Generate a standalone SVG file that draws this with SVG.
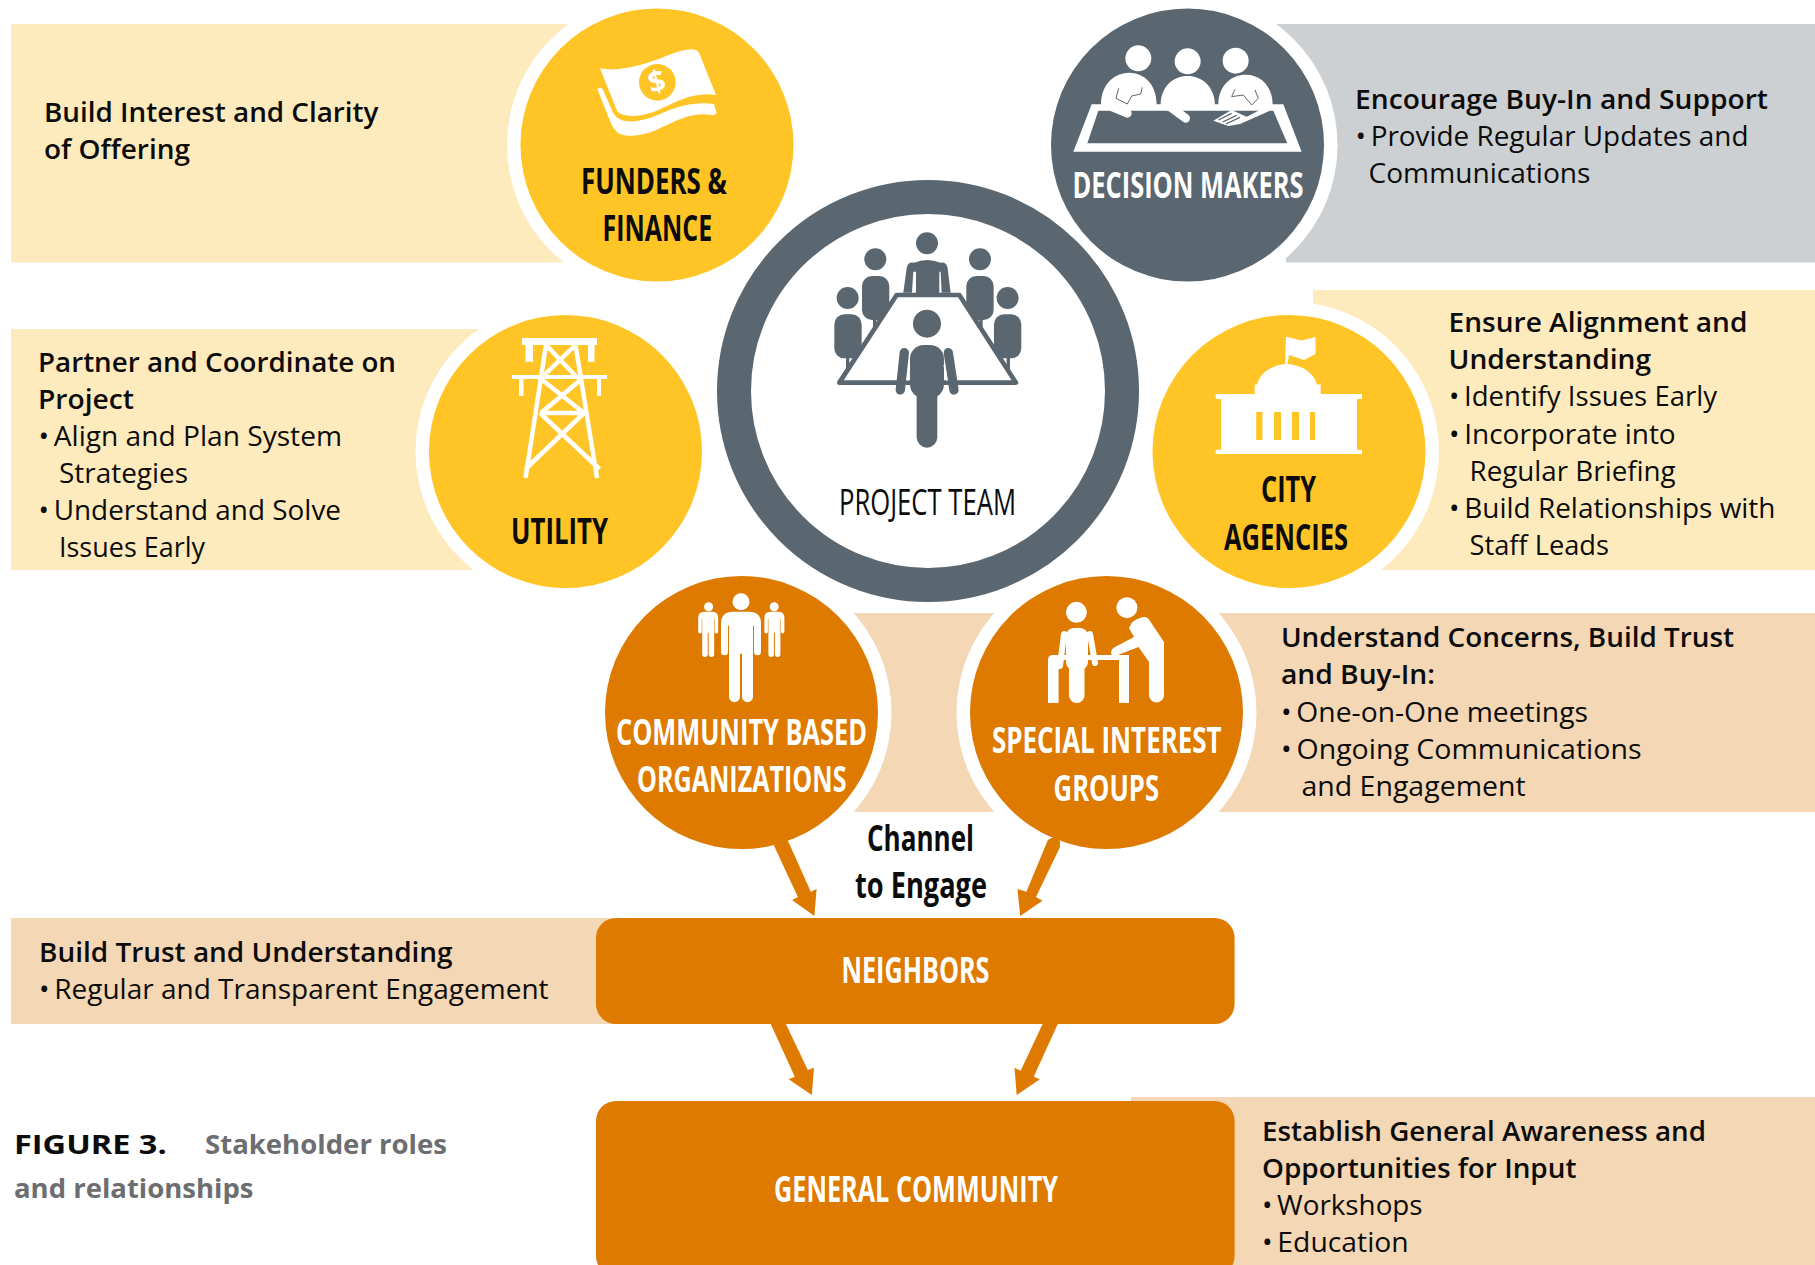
<svg xmlns="http://www.w3.org/2000/svg" width="1815" height="1265" viewBox="0 0 1815 1265">
<defs>
<style>
text{font-family:"Open Sans","Noto Sans","Liberation Sans",sans-serif;fill:#0c0c0c}
.b{font-size:27px;font-weight:400}
.h{font-size:27px;font-weight:600}
.l{font-size:36.5px;font-weight:700}
.r{font-size:36.5px;font-weight:400}
.w{fill:#fff}
.f{font-size:27px;font-weight:700}
.g{font-size:27px;font-weight:700;fill:#6d6e71}
.p{word-spacing:-2.5px}
.by{fill:#feebbd}.bg{fill:#ccd0d3}.bo{fill:#f4d7b4}
.y{fill:#ffc425}.o{fill:#df7a00}.s{fill:#5a6670}.hw{fill:#fff}.iw{fill:#fff}
.ln{fill:none;stroke:#fff;stroke-width:4.5}
</style>
<path id="person" d="M-20,12Q-20,0 -8,0H8Q20,0 20,12V40a3.5,3.5 0 0 1 -7,0V14H12V85a5.5,5.5 0 0 1 -11,0V42H-1V85a5.5,5.5 0 0 1 -11,0V14H-13V40a3.5,3.5 0 0 1 -7,0Z"/>
</defs>
<rect width="1815" height="1265" fill="#fff"/>

<g id="banners">
<rect class="by" x="11" y="24" width="620" height="238.500"/>
<rect class="by" x="11" y="329" width="520" height="241"/>
<path class="bg" d="M1270,24H1815V262.500H1286V255H1270Z"/>
<rect class="by" x="1313" y="290" width="502" height="280"/>
<rect class="bo" x="800" y="613" width="1015" height="199"/>
<rect class="bo" x="11" y="918" width="620" height="106"/>
<rect class="bo" x="1131" y="1097" width="684" height="168"/>
</g>

<g id="funders">
<circle class="hw" cx="657" cy="145" r="150"/>
<circle class="y" cx="657" cy="145" r="136.500"/>
<g transform="translate(580,30) scale(.3333)">
<path class="iw" d="M60,115C130,130 230,90 280,70C310,60 335,55 348,60Q358,65 362,80L408,195C340,185 290,215 235,240C190,260 140,265 112,245Z"/>
<path class="iw" d="M52,178Q60,168 68,178L100,250C125,290 190,275 245,250C300,225 350,215 402,222L410,250Q405,257 395,255C340,245 290,270 240,295C190,320 130,325 110,305Q100,295 95,285Z"/>
<circle class="y" cx="232" cy="157" r="55"/>
</g>
<text x="657" y="92" text-anchor="middle" transform="rotate(-14 657 82)" style="font-size:30px;font-weight:700;fill:#fff">$</text>
<text class="l" x="581" y="194.400" textLength="146" lengthAdjust="spacingAndGlyphs">FUNDERS &amp;</text>
<text class="l" x="602.600" y="241" textLength="109.500" lengthAdjust="spacingAndGlyphs">FINANCE</text>
<text class="h" x="44" y="121.700" textLength="334.500" lengthAdjust="spacingAndGlyphs">Build Interest and Clarity</text>
<text class="h" x="44" y="158.800" textLength="146" lengthAdjust="spacingAndGlyphs">of Offering</text>
</g>

<g id="utility">
<circle class="hw" cx="565.500" cy="451.500" r="150"/>
<circle class="y" cx="565.500" cy="451.500" r="136.500"/>
<path class="iw" d="M522,338H597V345H594.500V361.700H588V345H533V361.700H525.500V345H522ZM512,375H607V379H601V396H597V379H523.500V396H519V379H512Z"/>
<path class="ln" d="M546,345L525.500,478M575.500,345L597,478M546,345L576.500,377M575.500,345L542.300,377M541,379L584,413M581.600,379L541,413M540,413H584M540,413L599.500,469M584,413L525.500,469"/>
<text class="l" x="511" y="544" textLength="97" lengthAdjust="spacingAndGlyphs">UTILITY</text>
<text class="h" x="38" y="372" textLength="358" lengthAdjust="spacingAndGlyphs">Partner and Coordinate on</text>
<text class="h" x="38" y="408.700" textLength="96" lengthAdjust="spacingAndGlyphs">Project</text>
<text class="b" x="38.500" y="445.800" textLength="303.500" lengthAdjust="spacingAndGlyphs"><tspan class="p">• </tspan>Align and Plan System</text>
<text class="b" x="59" y="483" textLength="129" lengthAdjust="spacingAndGlyphs">Strategies</text>
<text class="b" x="38.500" y="519.700" textLength="302.500" lengthAdjust="spacingAndGlyphs"><tspan class="p">• </tspan>Understand and Solve</text>
<text class="b" x="59" y="556.800" textLength="146" lengthAdjust="spacingAndGlyphs">Issues Early</text>
</g>

<g id="decision-makers">
<circle class="hw" cx="1187.500" cy="145" r="150"/>
<circle class="s" cx="1187.500" cy="145" r="136.500"/>
<g transform="translate(1040,0) scale(.3333)">
<circle class="iw" cx="295" cy="175" r="39"/><circle class="iw" cx="443" cy="184" r="39"/><circle class="iw" cx="587" cy="182" r="39"/>
<path class="iw" d="M183,315C183,250 225,218 268,218C310,218 350,250 350,315ZM362,315C362,260 400,228 443,228C485,228 525,260 525,315ZM535,315C535,255 575,224 617,224C660,224 698,255 698,315Z"/>
<path class="iw" fill-rule="evenodd" d="M155,313H730L785,455H100ZM175,332L142,430H742L700,332Z"/>
<path d="M215,320L262,340M390,320L437,355" stroke="#fff" stroke-width="26" stroke-linecap="round" fill="none"/>
<path class="iw" d="M520,362L575,330L620,350L670,325L690,332L600,372L565,378Z"/>
<path d="M535,360L575,340M548,366L590,346M558,372L600,352" stroke="#5a6670" stroke-width="4" fill="none"/>
<path d="M236,265L228,295L262,312L275,288L302,282L307,262M585,268L575,290L610,285L635,315L655,295L645,270" stroke="#5a6670" stroke-width="3" fill="none"/>
</g>
<text class="l w" x="1072.500" y="198.200" textLength="231" lengthAdjust="spacingAndGlyphs">DECISION MAKERS</text>
<text class="h" x="1355" y="109" textLength="413" lengthAdjust="spacingAndGlyphs">Encourage Buy-In and Support</text>
<text class="b" x="1355.500" y="146" textLength="393" lengthAdjust="spacingAndGlyphs"><tspan class="p">• </tspan>Provide Regular Updates and</text>
<text class="b" x="1368.500" y="183" textLength="222" lengthAdjust="spacingAndGlyphs">Communications</text>
</g>

<g id="city-agencies">
<circle class="hw" cx="1289" cy="451.500" r="150"/>
<circle class="y" cx="1289" cy="451.500" r="136.500"/>
<path class="iw" d="M1215.700,449.700H1221V399H1215.700V394H1254.700V384.600H1257C1260,373 1271,365.500 1285,364L1286,337H1288.500L1289,355L1287.500,364C1303,365.500 1314,373 1317,384.600H1320.700V394H1362V399H1357V449.700H1362V454H1215.700Z"/>
<path class="iw" d="M1287.400,337L1301.500,340.600L1315.500,337V354L1304,360L1289,355Z"/>
<path class="y" d="M1256.200,412H1262.500V440H1256.200ZM1274,412H1281V440H1274ZM1292,412H1299V440H1292ZM1310,412H1315V440H1310Z"/>
<text class="l" x="1261" y="502" textLength="55" lengthAdjust="spacingAndGlyphs">CITY</text>
<text class="l" x="1224" y="549.600" textLength="124" lengthAdjust="spacingAndGlyphs">AGENCIES</text>
<text class="h" x="1448.600" y="331.800" textLength="298.800" lengthAdjust="spacingAndGlyphs">Ensure Alignment and</text>
<text class="h" x="1448.600" y="369" textLength="202.400" lengthAdjust="spacingAndGlyphs">Understanding</text>
<text class="b" x="1449" y="406" textLength="268" lengthAdjust="spacingAndGlyphs"><tspan class="p">• </tspan>Identify Issues Early</text>
<text class="b" x="1449" y="443.500" textLength="226.700" lengthAdjust="spacingAndGlyphs"><tspan class="p">• </tspan>Incorporate into</text>
<text class="b" x="1469.500" y="480.500" textLength="206.200" lengthAdjust="spacingAndGlyphs">Regular Briefing</text>
<text class="b" x="1449" y="518.400" textLength="326.500" lengthAdjust="spacingAndGlyphs"><tspan class="p">• </tspan>Build Relationships with</text>
<text class="b" x="1469.500" y="555" textLength="139.500" lengthAdjust="spacingAndGlyphs">Staff Leads</text>
</g>

<g id="project-team">
<circle cx="928" cy="391" r="194" fill="#fff" stroke="#5a6670" stroke-width="34"/>
<g transform="translate(700,170) scale(.3333)" class="s">
<circle cx="681" cy="220" r="33"/><circle cx="526" cy="268" r="33"/><circle cx="840" cy="268" r="33"/><circle cx="443" cy="384" r="33"/><circle cx="923" cy="384" r="33"/>
<rect x="486" y="318" width="82" height="132" rx="30"/><rect x="799" y="318" width="82" height="132" rx="30"/><rect x="403" y="433" width="82" height="132" rx="30"/><rect x="882" y="433" width="82" height="132" rx="30"/>
<path d="M519,445H529V490H519ZM838,445H848V490H838ZM438,560H448V600H438ZM920,560H930V600H920Z"/>
<path d="M620,295Q622,275 642,278Q682,262 722,278Q740,275 743,295L752,368H725L722,305H718V372H648V305H640L636,368H610Z"/>
<path d="M590,375H778L948,638H418Z" fill="#fff" stroke="#5a6670" stroke-width="14" stroke-linejoin="round"/>
<circle cx="681" cy="461" r="42"/>
<rect x="630" y="525" width="102" height="160" rx="42"/>
<rect x="650" y="640" width="62" height="193" rx="31"/>
<path d="M601,660L613,548M762,660L745,548" stroke="#5a6670" stroke-width="28" stroke-linecap="round" fill="none"/>
<path d="M628,585L622,632M733,585L741,632" stroke="#fff" stroke-width="5" fill="none"/>
</g>
<text class="r" x="839" y="514.700" textLength="177" lengthAdjust="spacingAndGlyphs">PROJECT TEAM</text>
</g>

<g id="community-based-organizations">
<circle class="hw" cx="741.500" cy="712.500" r="150"/>
<circle class="o" cx="741.500" cy="712.500" r="136.500"/>
<g class="iw">
<circle cx="741" cy="601.700" r="8.500"/><circle cx="708.600" cy="606.700" r="4.500"/><circle cx="774.200" cy="606.700" r="4.500"/>
<use href="#person" transform="translate(741,611.700)"/>
<use href="#person" transform="translate(708.200,611.700) scale(.5)"/>
<use href="#person" transform="translate(774.400,611.700) scale(.5)"/>
</g>
<text class="l w" x="616" y="745" textLength="251" lengthAdjust="spacingAndGlyphs">COMMUNITY BASED</text>
<text class="l w" x="637" y="792.300" textLength="209.500" lengthAdjust="spacingAndGlyphs">ORGANIZATIONS</text>
</g>

<g id="special-interest-groups">
<circle class="hw" cx="1106.500" cy="712.500" r="150"/>
<circle class="o" cx="1106.500" cy="712.500" r="136.500"/>
<g class="iw">
<circle cx="1076.400" cy="612.300" r="10.500"/><circle cx="1126.900" cy="607.700" r="10.500"/>
<rect x="1066" y="628" width="22" height="42" rx="8"/><rect x="1069" y="655" width="15.500" height="48" rx="7.500"/>
<path d="M1064,634L1060,666M1090,634L1095,663" stroke="#fff" stroke-width="6" stroke-linecap="round"/>
<path d="M1048,660Q1048,655 1053,655H1129V703H1119V660H1058.600V703H1048Z"/>
<path d="M1129,628Q1132,620 1140,618Q1147,615 1150,621L1164,642V695a7.500,7.500 0 0 1 -15,0V662L1138.500,647L1118,655Q1112,658 1111,653Q1111,649 1115,647L1134,637Z"/>
</g>
<text class="l w" x="992" y="753.300" textLength="229.600" lengthAdjust="spacingAndGlyphs">SPECIAL INTEREST</text>
<text class="l w" x="1053.600" y="800.700" textLength="105.400" lengthAdjust="spacingAndGlyphs">GROUPS</text>
<text class="h" x="1280.900" y="647" textLength="453.100" lengthAdjust="spacingAndGlyphs">Understand Concerns, Build Trust</text>
<text class="h" x="1280.900" y="684" textLength="154.100" lengthAdjust="spacingAndGlyphs">and Buy-In:</text>
<text class="b" x="1281" y="722" textLength="307" lengthAdjust="spacingAndGlyphs"><tspan class="p">• </tspan>One-on-One meetings</text>
<text class="b" x="1281" y="759" textLength="360.500" lengthAdjust="spacingAndGlyphs"><tspan class="p">• </tspan>Ongoing Communications</text>
<text class="b" x="1301.500" y="796" textLength="224.100" lengthAdjust="spacingAndGlyphs">and Engagement</text>
</g>

<g id="channel-label">
<text class="l" x="867" y="850.700" textLength="107" lengthAdjust="spacingAndGlyphs">Channel</text>
<text class="l" x="855" y="898.300" textLength="132" lengthAdjust="spacingAndGlyphs">to Engage</text>
</g>

<g id="neighbors">
<rect class="o" x="596" y="918" width="638.600" height="106" rx="20"/>
<text class="l w" x="841.500" y="983.300" textLength="148" lengthAdjust="spacingAndGlyphs">NEIGHBORS</text>
<text class="h" x="39" y="962" textLength="413.600" lengthAdjust="spacingAndGlyphs">Build Trust and Understanding</text>
<text class="b" x="39" y="999" textLength="509.600" lengthAdjust="spacingAndGlyphs"><tspan class="p">• </tspan>Regular and Transparent Engagement</text>
</g>

<g id="general-community">
<rect class="o" x="596" y="1101" width="638.600" height="175" rx="20"/>
<text class="l w" x="774" y="1201.700" textLength="284" lengthAdjust="spacingAndGlyphs">GENERAL COMMUNITY</text>
<text class="h" x="1262" y="1140.500" textLength="444" lengthAdjust="spacingAndGlyphs">Establish General Awareness and</text>
<text class="h" x="1262" y="1177.500" textLength="314.500" lengthAdjust="spacingAndGlyphs">Opportunities for Input</text>
<text class="b" x="1262" y="1214.500" textLength="160.600" lengthAdjust="spacingAndGlyphs"><tspan class="p">• </tspan>Workshops</text>
<text class="b" x="1262" y="1251.600" textLength="146.700" lengthAdjust="spacingAndGlyphs"><tspan class="p">• </tspan>Education</text>
</g>

<g id="connectors" class="o">
<path d="M773.700,845L787.600,840L810.800,891.700L816.600,889L814.400,916L792,900L797.900,897Z"/>
<path d="M1047.900,840Q1054,835 1060,841L1060,847L1036,897L1042.500,900.700L1020.200,916L1017.500,889L1026.400,891.700Z"/>
<path d="M770.700,1024L785.900,1024L807.800,1070L814,1067.700L811.800,1095L788.600,1079.300L794.800,1076.700Z"/>
<path d="M1042.600,1024L1057.800,1024L1033.700,1076.700L1039.900,1079.300L1016.700,1095L1014.500,1067.700L1020.700,1070.700Z"/>
</g>

<g id="caption">
<text class="f" x="14" y="1154" textLength="152.700" lengthAdjust="spacingAndGlyphs">FIGURE 3.</text>
<text class="g" x="205" y="1154" textLength="242" lengthAdjust="spacingAndGlyphs">Stakeholder roles</text>
<text class="g" x="14" y="1198" textLength="239.500" lengthAdjust="spacingAndGlyphs">and relationships</text>
</g>
</svg>
